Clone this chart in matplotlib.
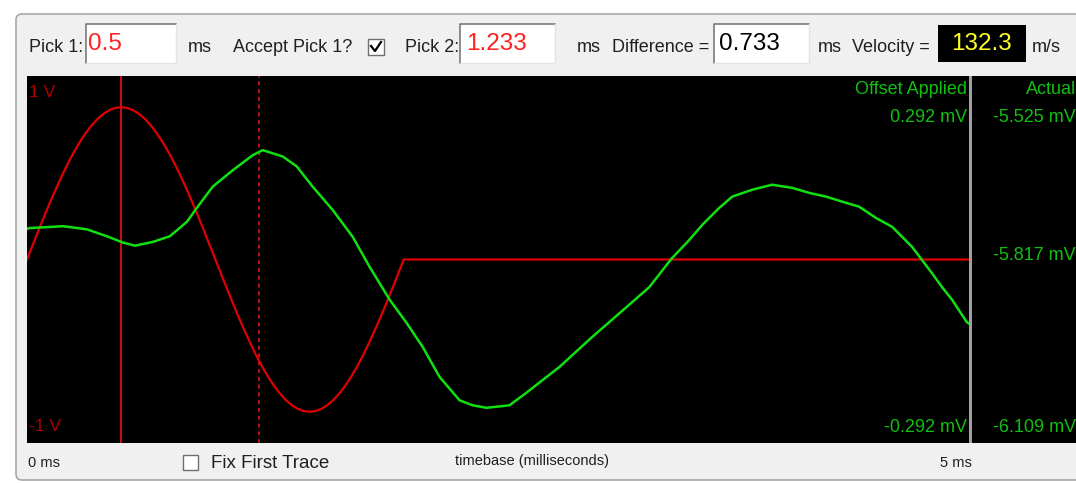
import numpy as np
import matplotlib
matplotlib.use("Agg")
import matplotlib.pyplot as plt
from matplotlib.patches import Rectangle, FancyBboxPatch

# ---------------- data ----------------
pick1_ms = 0.5
pick2_ms = 1.233
difference_ms = "0.733"
velocity = "132.3"

# red stimulus trace (V), one cycle then flat
red_quarter = [0.0, 0.081, 0.162, 0.241, 0.318, 0.391, 0.461, 0.527, 0.587,
               0.642, 0.690, 0.732, 0.767, 0.794, 0.814, 0.826, 0.830]
red_t = [0.0, 0.03125, 0.0625, 0.09375, 0.125, 0.15625, 0.1875, 0.21875, 0.25,
         0.28125, 0.3125, 0.34375, 0.375, 0.40625, 0.4375, 0.46875, 0.5,
         0.53125, 0.5625, 0.59375, 0.625, 0.65625, 0.6875, 0.71875, 0.75,
         0.78125, 0.8125, 0.84375, 0.875, 0.90625, 0.9375, 0.96875, 1.0,
         1.03125, 1.0625, 1.09375, 1.125, 1.15625, 1.1875, 1.21875, 1.25,
         1.28125, 1.3125, 1.34375, 1.375, 1.40625, 1.4375, 1.46875, 1.5,
         1.53125, 1.5625, 1.59375, 1.625, 1.65625, 1.6875, 1.71875, 1.75,
         1.78125, 1.8125, 1.84375, 1.875, 1.90625, 1.9375, 1.96875, 2.0, 5.0]
red_v = (red_quarter + red_quarter[-2::-1]
         + [-v for v in red_quarter[1:]] + [-v for v in red_quarter[-2::-1]] + [0.0])

# green response trace (mV, offset applied)
green_t = [0.0, 0.016, 0.191, 0.318, 0.424, 0.509, 0.573, 0.668, 0.758, 0.849,
           0.901, 0.986, 1.092, 1.198, 1.251, 1.357, 1.432, 1.516, 1.622, 1.729,
           1.819, 1.925, 2.015, 2.100, 2.190, 2.296, 2.365, 2.439, 2.561, 2.651,
           2.736, 2.826, 3.001, 3.181, 3.303, 3.420, 3.515, 3.584, 3.674, 3.743,
           3.849, 3.955, 4.062, 4.152, 4.242, 4.327, 4.417, 4.507, 4.592, 4.698,
           4.746, 4.804, 4.857, 4.910, 4.989, 5.0]
green_mv = [0.049, 0.050, 0.053, 0.048, 0.037, 0.027, 0.022, 0.028, 0.037, 0.060,
            0.082, 0.116, 0.142, 0.166, 0.174, 0.164, 0.148, 0.116, 0.079, 0.036,
            -0.012, -0.064, -0.101, -0.139, -0.187, -0.224, -0.232, -0.236, -0.232, -0.212,
            -0.192, -0.171, -0.123, -0.076, -0.044, 0.001, 0.031, 0.055, 0.082, 0.100,
            0.111, 0.119, 0.114, 0.106, 0.100, 0.092, 0.084, 0.066, 0.052, 0.020,
            0.001, -0.022, -0.044, -0.064, -0.100, -0.102]

offset_labels = ["0.292 mV", "-0.292 mV"]
actual_labels = ["-5.525 mV", "-5.817 mV", "-6.109 mV"]
y_labels = ["1 V", "-1 V"]
x_labels = ["0 ms", "5 ms"]

# ---------------- layout helpers ----------------
W, H = 1076, 483
fig = plt.figure(figsize=(W / 100, H / 100), dpi=100, facecolor="white")
FONT = ["Liberation Sans", "DejaVu Sans"]

def fr(x0, y0, x1, y1):
    return [x0 / W, 1 - y1 / H, (x1 - x0) / W, (y1 - y0) / H]

bg = fig.add_axes([0, 0, 1, 1], zorder=0)
bg.set_xlim(0, W); bg.set_ylim(H, 0); bg.axis("off")
# frame
bg.add_patch(FancyBboxPatch((16, 14), W + 20, 466, boxstyle="round,pad=0,rounding_size=6",
                            facecolor="#f0f0f0", edgecolor="#a8a8a8", lw=1.2))

def textbox(x0, y0, x1, y1, face="white"):
    bg.add_patch(Rectangle((x0, y0), x1 - x0, y1 - y0, facecolor=face, edgecolor="none"))
    bg.plot([x0, x0, x1], [y1, y0, y0], color="#7a7a7a", lw=1.2)
    bg.plot([x0, x1, x1], [y1, y1, y0], color="#e3e3e3", lw=1.0)

textbox(86, 24, 176, 63)
textbox(460, 24, 555, 63)
textbox(714, 24, 809, 63)
bg.add_patch(Rectangle((938, 25), 88, 37, facecolor="black", edgecolor="none"))
# checkboxes
bg.add_patch(Rectangle((368, 39), 16, 16, facecolor="white", edgecolor="#6e6e6e", lw=1))
bg.plot([371, 375, 381], [46, 51, 42], color="black", lw=1.6)
bg.add_patch(Rectangle((183, 455), 15, 15, facecolor="white", edgecolor="#6e6e6e", lw=1))

# top labels
tk = dict(fontsize=13, family=FONT, color="#202020", va="center")
bg.text(29, 47, "Pick 1:", **tk)
bg.text(188, 48, "ms", **tk)
bg.text(233, 47, "Accept Pick 1?", **tk)
bg.text(405, 47, "Pick 2:", **tk)
bg.text(577, 48, "ms", **tk)
bg.text(612, 47, "Difference =", **tk)
bg.text(818, 48, "ms", **tk)
bg.text(852, 47, "Velocity =", **tk)
bg.text(1032, 48, "m/s", **tk)
vk = dict(fontsize=17.5, family=FONT, va="center")
bg.text(88, 44, f"{pick1_ms:g}", color="#ff2020", **vk)
bg.text(466, 44, f"{pick2_ms:g}", color="#ff2020", **vk)
bg.text(719, 44, difference_ms, color="black", **vk)
bg.text(951, 44, velocity, color="#ffff20", **vk)

# bottom labels
bg.text(28, 463, x_labels[0], fontsize=10.5, family=FONT, color="#202020", va="center")
bg.text(940, 463, x_labels[1], fontsize=10.5, family=FONT, color="#202020", va="center")
bg.text(211, 463, "Fix First Trace", fontsize=13.5, family=FONT, color="#202020", va="center")
bg.text(455, 461, "timebase (milliseconds)", fontsize=10.5, family=FONT, color="#202020", va="center")

# ---------------- plot panels ----------------
ax = fig.add_axes(fr(27, 76, 969, 443), zorder=2)
ax.set_facecolor("black")
ax.set_xlim(0, 5)
ax.set_ylim(-1, 1)
for s in ax.spines.values():
    s.set_visible(False)
ax.set_xticks([]); ax.set_yticks([])
ax.plot(red_t, red_v, color="#e00000", lw=1.6, zorder=3)
ax.axvline(pick1_ms, color="#c81010", lw=1.4, zorder=2)
ax.axvline(pick2_ms, color="#c81010", lw=1.4, ls=(0, (2, 2)), zorder=2)
ax.text(0.002, 0.955, y_labels[0], transform=ax.transAxes, color="#a80000",
        fontsize=12.5, family=FONT, va="center", ha="left")
ax.text(0.002, 0.045, y_labels[1], transform=ax.transAxes, color="#a80000",
        fontsize=12.5, family=FONT, va="center", ha="left")

ax2 = ax.twinx()
ax2.set_ylim(-0.292, 0.292)
ax2.set_yticks([])
for s in ax2.spines.values():
    s.set_visible(False)
ax2.plot(green_t, green_mv, color="#10e010", lw=1.8, zorder=4)
gk = dict(color="#10c010", fontsize=13, family=FONT, va="center", ha="right")
ax2.text(0.998, 0.962, "Offset Applied", transform=ax.transAxes, **gk)
ax2.text(0.998, 0.886, offset_labels[0], transform=ax.transAxes, **gk)
ax2.text(0.998, 0.042, offset_labels[1], transform=ax.transAxes, **gk)

# divider
bg.add_patch(Rectangle((969, 76), 3, 367, facecolor="#a0a0a0", edgecolor="none"))

axr = fig.add_axes(fr(972, 76, W, 443), zorder=2)
axr.set_facecolor("black")
axr.set_xlim(0, 1); axr.set_ylim(0, 1)
axr.set_xticks([]); axr.set_yticks([])
for s in axr.spines.values():
    s.set_visible(False)
axr.text(1.0, 0.962, "Actual", transform=axr.transAxes, **gk)
axr.text(1.0, 0.886, actual_labels[0], transform=axr.transAxes, **gk)
axr.text(1.0, 0.512, actual_labels[1], transform=axr.transAxes, **gk)
axr.text(1.0, 0.042, actual_labels[2], transform=axr.transAxes, **gk)

fig.savefig("out.png", dpi=100, facecolor="white")
